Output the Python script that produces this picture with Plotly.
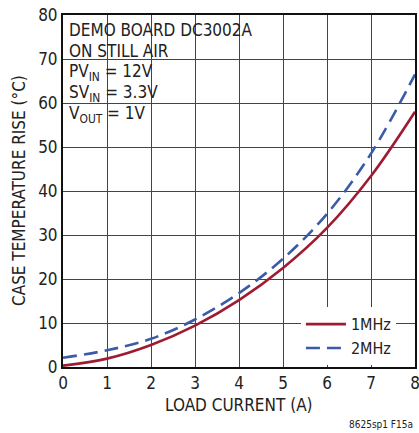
import plotly.graph_objects as go

load_current = [0, 1, 2, 3, 4, 5, 6, 7, 8]
rise_1mhz = [0.3, 1.9, 5.0, 9.4, 15.2, 22.5, 31.6, 43.4, 58.0]
rise_2mhz = [2.1, 3.8, 6.4, 10.8, 16.8, 24.6, 34.8, 48.5, 66.5]
x_ticks = [0, 1, 2, 3, 4, 5, 6, 7, 8]
y_ticks = [0, 10, 20, 30, 40, 50, 60, 70, 80]
note_lines = ["DEMO BOARD DC3002A", "ON STILL AIR", "PV<sub>IN</sub> = 12V",
              "SV<sub>IN</sub> = 3.3V", "V<sub>OUT</sub> = 1V"]

FONT = "DejaVu Sans Condensed, Liberation Sans Narrow, sans-serif"
RED = "#9E1B32"
BLUE = "#3B5BA8"
TXT = "#222"

fig = go.Figure()
fig.add_trace(go.Scatter(x=load_current, y=rise_1mhz, mode="lines", name="1MHz",
                         line=dict(color=RED, width=2.6, shape="spline")))
fig.add_trace(go.Scatter(x=load_current, y=rise_2mhz, mode="lines", name="2MHz",
                         line=dict(color=BLUE, width=2.6, dash="14px,7px", shape="spline")))

# white box behind notes
fig.add_shape(type="rect", xref="x", yref="y", x0=0, x1=4.37, y0=54.5, y1=80,
              fillcolor="white", line=dict(width=0), layer="below")

for i, t in enumerate(note_lines):
    fig.add_annotation(xref="paper", yref="paper", x=0.012, y=1 - (20.7 * i + 3) / 352,
                       text=t, showarrow=False, xanchor="left", yanchor="top",
                       font=dict(family=FONT, size=17, color=TXT))

fig.add_annotation(xref="paper", yref="paper", x=1.0, y=-50 / 352, text="8625sp1 F15a",
                   showarrow=False, xanchor="right", yanchor="top",
                   font=dict(family=FONT, size=10, color=TXT))
fig.add_annotation(xref="paper", yref="paper", x=0.5, y=-26 / 352, text="LOAD CURRENT (A)",
                   showarrow=False, xanchor="center", yanchor="top",
                   font=dict(family=FONT, size=17, color=TXT))
fig.add_annotation(xref="paper", yref="paper", x=-44 / 352, y=0.5, text="CASE TEMPERATURE RISE (°C)",
                   showarrow=False, xanchor="center", yanchor="middle", textangle=-90,
                   font=dict(family=FONT, size=17, color=TXT))

fig.update_layout(
    width=419, height=433,
    margin=dict(l=63, r=4, t=15, b=66, autoexpand=False),
    paper_bgcolor="white", plot_bgcolor="white",
    font=dict(family=FONT, size=17, color=TXT),
    showlegend=True,
    legend=dict(x=0.676, y=0.005, xanchor="left", yanchor="bottom",
                bgcolor="white", borderwidth=0, font=dict(size=16),
                tracegroupgap=0, itemwidth=40),
)
fig.update_xaxes(range=[0, 8], tickvals=x_ticks, showgrid=True, gridcolor="#444", gridwidth=1,
                 showline=True, linecolor="#111", linewidth=2, mirror=True, ticks="",
                 zeroline=False, automargin=False, tickfont=dict(size=17),
                 ticklabeloverflow="allow")
fig.update_yaxes(range=[0, 80], tickvals=y_ticks, showgrid=True, gridcolor="#444", gridwidth=1,
                 showline=True, linecolor="#111", linewidth=2, mirror=True, ticks="",
                 zeroline=False, automargin=False, tickfont=dict(size=17),
                 ticklabeloverflow="allow")

fig.write_html("out.html", config={"displayModeBar": False},
               post_script="document.body.style.margin='0';")
